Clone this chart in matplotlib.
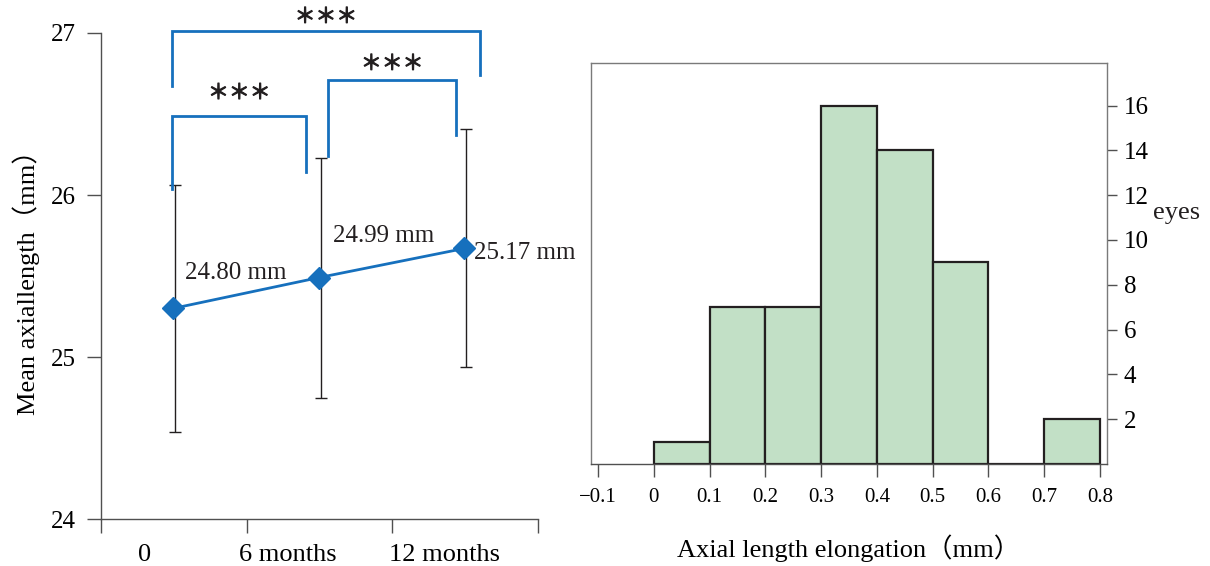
"""plot.py — mean axial length over time + histogram of axial length elongation"""
import numpy as np
import matplotlib
matplotlib.use('Agg')
import matplotlib.pyplot as plt
import matplotlib.patheffects as pe

plt.rcParams['font.family'] = ['Liberation Serif', 'Noto Sans CJK JP', 'DejaVu Sans']
plt.rcParams['text.color'] = '#231f20'

# --- left panel data ---
time_labels = ['0', '6 months', '12 months']
mean_al = [25.30, 25.49, 25.67]
err_upper = [26.06, 26.23, 26.41]
err_lower = [24.54, 24.75, 24.94]
value_labels = ['24.80 mm', '24.99 mm', '25.17 mm']

# significance brackets: (x_left, x_right, top, left_leg_end, right_leg_end, star_y)
brackets = [
    (0.49, 1.41, 26.49, 26.04, 26.14, 26.63),
    (1.56, 2.44, 26.71, 26.24, 26.37, 26.81),
    (0.49, 2.60, 27.01, 26.67, 26.74, 27.10),
]
sig_text = '＊＊＊'

# --- right panel data ---
bin_edges = [0.0, 0.1, 0.2, 0.3, 0.4, 0.5, 0.6, 0.7, 0.8]
eye_counts = [1, 7, 7, 16, 14, 9, 0, 2]

BLUE = '#1670bd'
DARK = '#231f20'
AXC = '#505050'

fig = plt.figure(figsize=(12.1, 5.66), dpi=100)

# ---------------- left: mean axial length ----------------
ax = fig.add_axes([0.0835, 0.083, 0.361, 0.8587])
xpos = np.arange(len(mean_al)) + 0.5
yerr = [np.array(mean_al) - np.array(err_lower), np.array(err_upper) - np.array(mean_al)]
ax.errorbar(xpos + 0.01, mean_al, yerr=yerr, fmt='none', ecolor=DARK,
            elinewidth=1.0, capsize=4, capthick=1.0, zorder=2)
ax.plot(xpos - 0.005, mean_al, color=BLUE, linewidth=2, marker='D', markersize=11,
        markerfacecolor=BLUE, markeredgecolor=BLUE, zorder=3)

label_offsets = [(0.08, 0.22), (0.09, 0.26), (0.06, -0.03)]
for x, y, t, (dx, dy) in zip(xpos, mean_al, value_labels, label_offsets):
    ax.text(x + dx, y + dy, t, fontsize=18, ha='left', va='center')

for xl, xr, top, l_end, r_end, sy in brackets:
    ax.plot([xl, xl, xr, xr], [l_end, top, top, r_end], color=BLUE,
            linewidth=2, clip_on=False, solid_joinstyle='miter')
    ax.text((xl + xr) / 2, sy, sig_text, fontsize=15, ha='center',
            va='center', color=DARK, family=['Noto Sans CJK JP'],
            clip_on=False,
            path_effects=[pe.withStroke(linewidth=0.8, foreground=DARK)])

ax.set_xlim(0, 3)
ax.set_ylim(24, 27)
ax.set_yticks([24, 25, 26, 27])
ax.set_xticks([0, 1, 2, 3])
ax.set_xticklabels([])
ax.set_xticks([0.30, 1.28, 2.36], time_labels, minor=True)
ax.tick_params(axis='x', which='minor', length=0, pad=18, labelsize=19)
ax.tick_params(axis='both', which='major', direction='out', length=10,
               width=1, color=AXC, labelsize=18, pad=8)
for s in ['top', 'right']:
    ax.spines[s].set_visible(False)
for s in ['left', 'bottom']:
    ax.spines[s].set_color(AXC)
    ax.spines[s].set_linewidth(1)
ax.set_ylabel('Mean axiallength（mm）', fontsize=19, labelpad=8)

# ---------------- right: histogram ----------------
ax2 = fig.add_axes([0.4884, 0.1802, 0.4265, 0.7085])
ax2.bar(bin_edges[:-1], eye_counts, width=0.1, align='edge', color='#c2e0c6',
        edgecolor=DARK, linewidth=1.6, zorder=2)
ax2.set_xlim(-0.1125, 0.8125)
ax2.set_ylim(0, 17.9)
ax2.yaxis.tick_right()
ax2.set_yticks([2, 4, 6, 8, 10, 12, 14, 16])
ax2.set_xticks(np.round(np.arange(-0.1, 0.81, 0.1), 1))
ax2.set_xticklabels(['−0.1', '0', '0.1', '0.2', '0.3', '0.4', '0.5', '0.6', '0.7', '0.8'])
ax2.tick_params(axis='y', direction='out', length=7, width=1, color=AXC,
                labelsize=18, pad=5)
ax2.tick_params(axis='x', direction='out', length=9, width=1, color=AXC,
                labelsize=15, pad=8)
for s in ax2.spines.values():
    s.set_color('#7a7a7a')
    s.set_linewidth(1)
ax2.spines['bottom'].set_color(AXC)
ax2.text(1.09, 0.625, 'eyes', transform=ax2.transAxes, fontsize=19,
         ha='left', va='center')
ax2.set_xlabel('Axial length elongation（mm）', fontsize=19, labelpad=20)

fig.savefig('out.png', dpi=100)
